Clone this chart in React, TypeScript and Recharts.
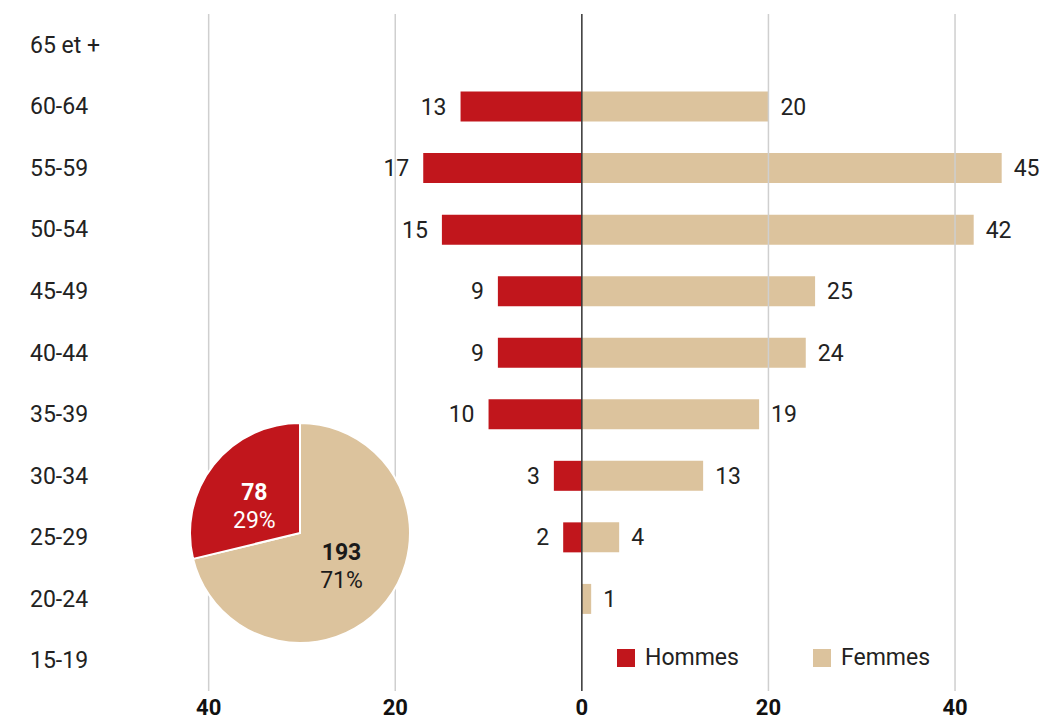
import React from 'react';
import { BarChart, Bar, XAxis, YAxis, ReferenceLine, LabelList, PieChart, Pie, Cell } from 'recharts';

const ages = ['65 et +', '60-64', '55-59', '50-54', '45-49', '40-44', '35-39', '30-34', '25-29', '20-24', '15-19'];
const hommes = [0, 13, 17, 15, 9, 9, 10, 3, 2, 0, 0];
const femmes = [0, 20, 45, 42, 25, 24, 19, 13, 4, 1, 0];
const xTicks = [-40, -20, 0, 20, 40];
const gridTicks = [-40, -20, 20, 40];
const totalHommes = 78;
const totalFemmes = 193;

const RED = '#c1161c';
const BEIGE = '#dcc39d';
const FONT = 'Roboto, "DejaVu Sans Condensed", sans-serif';

const data = ages.map((age, i) => ({ age, hommes: -hommes[i], femmes: femmes[i] }));

const total = totalHommes + totalFemmes;
const pieData = [
  { name: 'Femmes', value: totalFemmes, color: BEIGE, text: '#1a1a1a' },
  { name: 'Hommes', value: totalHommes, color: RED, text: '#ffffff' },
];

const AgeTick = (props: any) => {
  const { y, payload } = props;
  return (
    <text x={30} y={y} dy={8} textAnchor="start" fontSize={23} fill="#222" fontFamily={FONT}>
      {payload.value}
    </text>
  );
};

const HommesLabel = (props: any) => {
  const { x, y, width, height, value } = props;
  if (!value) return null;
  const left = Math.min(x, x + width);
  return (
    <text x={left - 14} y={y + height / 2} dy={8} textAnchor="end" fontSize={23} fill="#222" fontFamily={FONT}>
      {Math.abs(value)}
    </text>
  );
};

const FemmesLabel = (props: any) => {
  const { x, y, width, height, value } = props;
  if (!value) return null;
  const right = Math.max(x, x + width);
  return (
    <text x={right + 12} y={y + height / 2} dy={8} textAnchor="start" fontSize={23} fill="#222" fontFamily={FONT}>
      {value}
    </text>
  );
};

const PieLabel = (props: any) => {
  const { cx, cy, midAngle, outerRadius, index } = props;
  const d = pieData[index];
  const r = outerRadius * 0.48;
  const rad = (-(midAngle + (index === 1 ? 8 : 0)) * Math.PI) / 180;
  const x = cx + r * Math.cos(rad);
  const y = cy + r * Math.sin(rad);
  return (
    <text textAnchor="middle" fill={d.text} fontFamily={FONT} fontSize={23}>
      <tspan x={x} y={y - 6} fontWeight="bold">{d.value}</tspan>
      <tspan x={x} y={y + 22}>{Math.round((d.value / total) * 100)}%</tspan>
    </text>
  );
};

export default function App() {
  return (
    <div style={{ position: 'absolute', left: 0, top: 0, width: 1049, height: 723, background: '#fff', fontFamily: FONT }}>
      <BarChart
        width={1049}
        height={723}
        data={data}
        layout="vertical"
        stackOffset="sign"
        margin={{ top: 14, right: 10, bottom: 0, left: 0 }}
      >
        {gridTicks.map((t) => (
          <ReferenceLine key={t} x={t} stroke="#cfcfcf" strokeWidth={1.5} />
        ))}
        <XAxis
          type="number"
          domain={[-42, 49]}
          ticks={xTicks}
          tickFormatter={(v: number) => String(Math.abs(v))}
          axisLine={false}
          tickLine={false}
          height={32}
          tick={{ fontSize: 22, fontWeight: 'bold', fill: '#111', fontFamily: FONT }}
          tickMargin={2}
        />
        <YAxis type="category" dataKey="age" width={190} axisLine={false} tickLine={false} tick={<AgeTick />} />
        <Bar dataKey="hommes" stackId="a" fill={RED} barSize={30} isAnimationActive={false}>
          <LabelList dataKey="hommes" content={<HommesLabel />} />
        </Bar>
        <Bar dataKey="femmes" stackId="a" fill={BEIGE} barSize={30} isAnimationActive={false}>
          <LabelList dataKey="femmes" content={<FemmesLabel />} />
        </Bar>
        <ReferenceLine x={0} stroke="#333" strokeWidth={1.5} />
      </BarChart>

      <div style={{ position: 'absolute', left: 180, top: 413, width: 240, height: 240 }}>
        <PieChart width={240} height={240} margin={{ top: 0, right: 0, bottom: 0, left: 0 }}>
          <Pie
            data={pieData}
            dataKey="value"
            cx="50%"
            cy="50%"
            outerRadius={110}
            startAngle={90}
            endAngle={-270}
            stroke="#fff"
            strokeWidth={2}
            label={<PieLabel />}
            labelLine={false}
            isAnimationActive={false}
          >
            {pieData.map((d) => (
              <Cell key={d.name} fill={d.color} />
            ))}
          </Pie>
        </PieChart>
      </div>

      <div style={{ position: 'absolute', left: 617, top: 644, display: 'flex', fontSize: 23, color: '#222' }}>
        {[{ name: 'Hommes', color: RED }, { name: 'Femmes', color: BEIGE }].map((it) => (
          <div key={it.name} style={{ display: 'flex', alignItems: 'center', width: 196 }}>
            <span style={{ display: 'inline-block', width: 18, height: 18, background: it.color, marginRight: 10 }} />
            <span>{it.name}</span>
          </div>
        ))}
      </div>
    </div>
  );
}
